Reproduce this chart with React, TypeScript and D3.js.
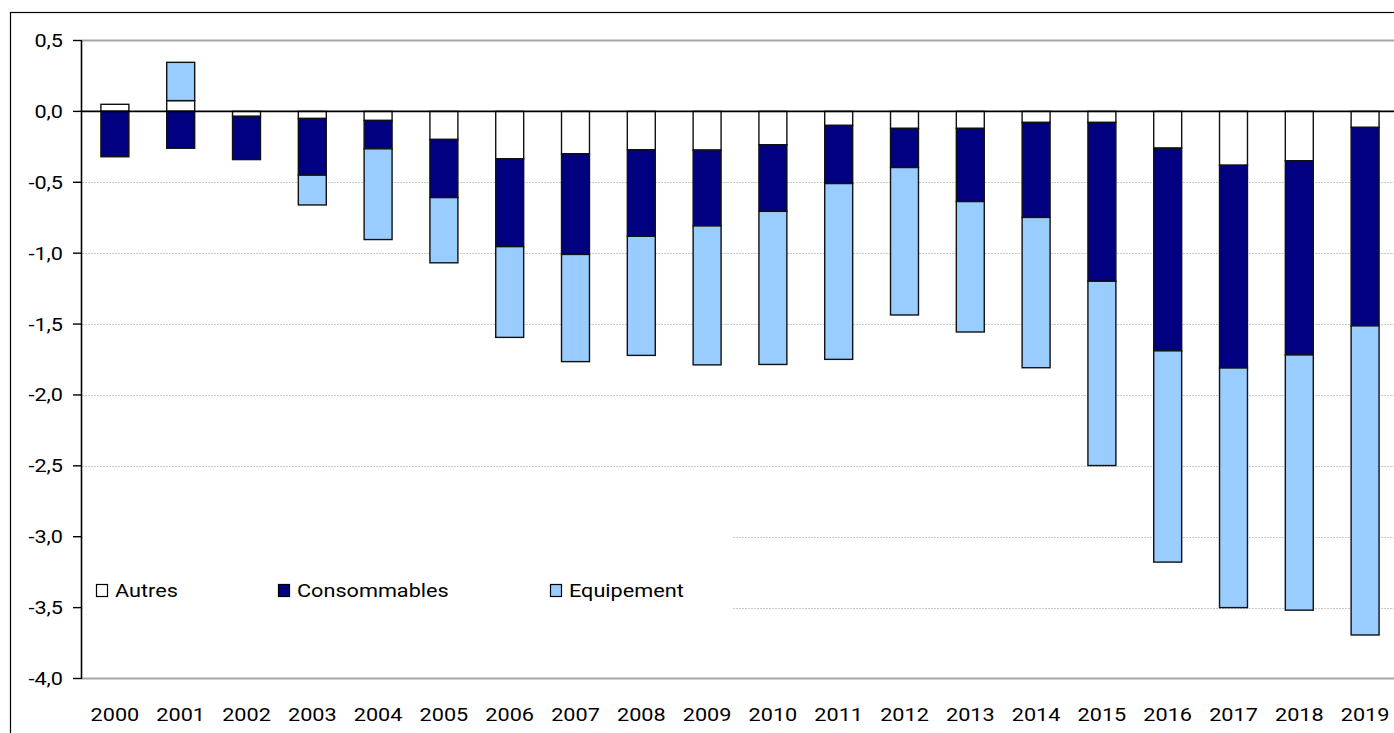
import React from 'react';
import * as d3 from 'd3';

const years = ['2000', '2001', '2002', '2003', '2004', '2005', '2006', '2007', '2008', '2009',
  '2010', '2011', '2012', '2013', '2014', '2015', '2016', '2017', '2018', '2019'];
const autres = [0.05, 0.076, -0.035, -0.05, -0.064, -0.198, -0.334, -0.299, -0.271, -0.273,
  -0.235, -0.099, -0.12, -0.12, -0.078, -0.078, -0.259, -0.38, -0.348, -0.113];
const consommables = [-0.32, -0.26, -0.305, -0.4, -0.2, -0.41, -0.62, -0.71, -0.61, -0.535,
  -0.47, -0.41, -0.276, -0.516, -0.67, -1.12, -1.43, -1.43, -1.37, -1.4];
const equipement = [0, 0.27, 0, -0.21, -0.64, -0.46, -0.64, -0.756, -0.84, -0.98,
  -1.08, -1.24, -1.04, -0.92, -1.06, -1.3, -1.49, -1.69, -1.8, -2.18];
const yTicks = [0.5, 0, -0.5, -1, -1.5, -2, -2.5, -3, -3.5, -4];

const seriesKeys = ['Autres', 'Consommables', 'Equipement'];
const seriesColors: Record<string, string> = {
  Autres: '#ffffff',
  Consommables: '#000080',
  Equipement: '#99ccff',
};

const W = 1394;
const H = 733;
const left = 82;
const right = 1398;
const top = 40.5;
const bottom = 678.5;
const FONT = 'Roboto, "Noto Sans", sans-serif';

// horizontally stretched text like the source image
function Label({ x, y, anchor, children }: { x: number; y: number; anchor: string; children: React.ReactNode }) {
  return (
    <text
      transform={`translate(${x},${y}) scale(1.14,1)`}
      textAnchor={anchor}
      dominantBaseline="central"
      fontFamily={FONT}
      fontSize={19}
      fill="#000"
    >
      {children}
    </text>
  );
}

export default function App() {
  const rows = years.map((year, i) => ({
    year,
    Autres: autres[i],
    Consommables: consommables[i],
    Equipement: equipement[i],
  }));

  const x = d3.scaleBand<string>()
    .domain(years)
    .range([left, right])
    .paddingInner(0.575)
    .paddingOuter(0.2875);

  const y = d3.scaleLinear().domain([-4, 0.5]).range([bottom, top]);

  const stacked = d3.stack<any>()
    .keys(seriesKeys)
    .offset(d3.stackOffsetDiverging)(rows);

  const legendItems = [
    { key: 'Autres', x: 96 },
    { key: 'Consommables', x: 278 },
    { key: 'Equipement', x: 550 },
  ];

  return (
    <svg width={W} height={H} style={{ position: 'absolute', left: 0, top: 0, background: '#fff' }}>
      <rect x={0} y={0} width={W} height={H} fill="#fff" />
      {/* outer chart frame */}
      <rect x={10.5} y={12.5} width={1420} height={800} fill="none" stroke="#000" strokeWidth={1.2} />

      {/* gridlines */}
      {yTicks.filter(t => t !== 0 && t !== 0.5 && t !== -4).map(t => (
        <line key={t} x1={left} x2={right} y1={Math.round(y(t)) + 0.5} y2={Math.round(y(t)) + 0.5}
          stroke="#c8c8c8" strokeWidth={1} strokeDasharray="2,1" />
      ))}
      <line x1={left} x2={right} y1={y(0.5)} y2={y(0.5)} stroke="#a6a6a6" strokeWidth={2} />
      <line x1={left} x2={right} y1={y(-4)} y2={y(-4)} stroke="#a6a6a6" strokeWidth={2} />

      {/* legend background and items */}
      <rect x={left + 1} y={500} width={732 - left - 1} height={150} fill="#fff" />
      {legendItems.map(item => (
        <g key={item.key}>
          <rect x={item.x + 0.5} y={584.5} width={11} height={12} fill={seriesColors[item.key]} stroke="#000" strokeWidth={1.2} />
          <Label x={item.x + 19} y={590} anchor="start">{item.key}</Label>
        </g>
      ))}

      {/* bars */}
      {stacked.map(layer => (
        <g key={layer.key}>
          {layer.map((d, i) => {
            const y0 = y(d[0]);
            const y1 = y(d[1]);
            const h = Math.abs(y0 - y1);
            if (h < 0.01) return null;
            return (
              <rect key={i}
                x={x(years[i])!}
                y={Math.min(y0, y1)}
                width={x.bandwidth()}
                height={h}
                fill={seriesColors[layer.key]}
                stroke="#111"
                strokeWidth={1.4}
              />
            );
          })}
        </g>
      ))}

      {/* zero line and y axis */}
      <line x1={left} x2={right} y1={y(0)} y2={y(0)} stroke="#000" strokeWidth={1.6} />
      <line x1={left - 0.5} x2={left - 0.5} y1={y(0.5)} y2={y(-4)} stroke="#000" strokeWidth={1.6} />
      {yTicks.map(t => (
        <g key={t}>
          <line x1={left - 9} x2={left} y1={y(t)} y2={y(t)} stroke="#000" strokeWidth={1.4} />
          <Label x={63} y={y(t)} anchor="end">{d3.format('.1f')(t).replace('.', ',').replace('−', '-')}</Label>
        </g>
      ))}

      {/* x labels */}
      {years.map(yr => (
        <Label key={yr} x={x(yr)! + x.bandwidth() / 2} y={714} anchor="middle">{yr}</Label>
      ))}
    </svg>
  );
}
